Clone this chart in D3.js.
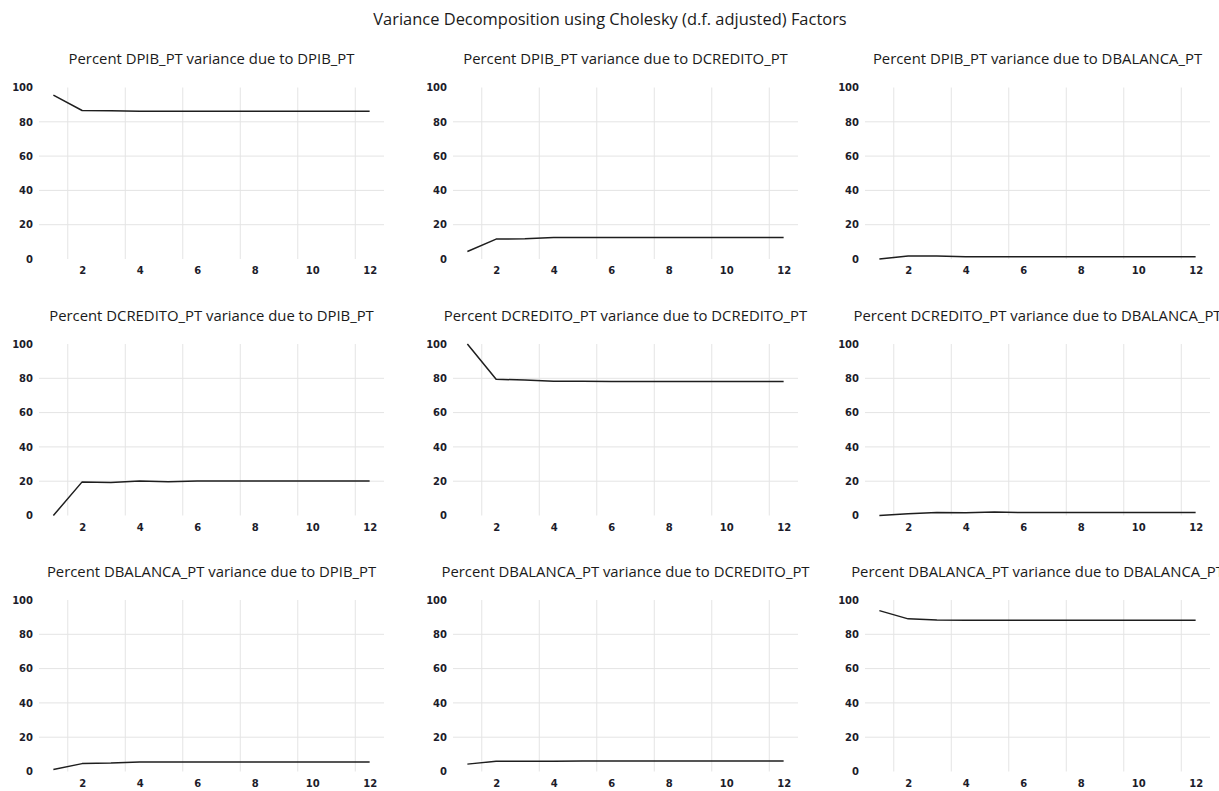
<!DOCTYPE html>
<html>
<head>
<meta charset="utf-8">
<script src="https://cdn.jsdelivr.net/npm/d3@7"></script>
<style>
  html, body { margin: 0; padding: 0; background: #ffffff; overflow: hidden; }
  svg { display: block; }
</style>
</head>
<body>
<svg id="chart" width="1219" height="791"></svg>
<script>
// ---------------- data ----------------
const chartTitle = "Variance Decomposition using Cholesky (d.f. adjusted) Factors";
const variables = ["DPIB_PT", "DCREDITO_PT", "DBALANCA_PT"];
const periods = [1, 2, 3, 4, 5, 6, 7, 8, 9, 10, 11, 12];
const xTickValues = [2, 4, 6, 8, 10, 12];
const yTickValues = [0, 20, 40, 60, 80, 100];
const xGridValues = [1.5, 3.5, 5.5, 7.5, 9.5, 11.5];
const yGridValues = [20, 40, 60, 80];

// Percent <response> variance due to <shock>
const dpib_dpib   = [95.6, 86.6, 86.5, 86.2, 86.2, 86.2, 86.2, 86.2, 86.2, 86.2, 86.2, 86.2];
const dpib_dcred  = [4.4, 11.6, 11.8, 12.5, 12.5, 12.5, 12.5, 12.5, 12.5, 12.5, 12.5, 12.5];
const dpib_dbal   = [0.0, 1.8, 1.7, 1.3, 1.3, 1.3, 1.3, 1.3, 1.3, 1.3, 1.3, 1.3];

const dcred_dpib  = [0.0, 19.6, 19.3, 20.1, 19.7, 20.1, 20.1, 20.1, 20.1, 20.1, 20.1, 20.1];
const dcred_dcred = [100.0, 79.4, 79.0, 78.3, 78.3, 78.2, 78.2, 78.2, 78.2, 78.2, 78.2, 78.2];
const dcred_dbal  = [0.0, 1.0, 1.7, 1.6, 2.0, 1.7, 1.7, 1.7, 1.7, 1.7, 1.7, 1.7];

const dbal_dpib   = [1.2, 4.6, 4.9, 5.6, 5.6, 5.6, 5.6, 5.6, 5.6, 5.6, 5.6, 5.6];
const dbal_dcred  = [4.3, 6.0, 6.0, 6.0, 6.1, 6.1, 6.1, 6.1, 6.1, 6.1, 6.1, 6.1];
const dbal_dbal   = [93.8, 89.0, 88.4, 88.2, 88.2, 88.2, 88.2, 88.2, 88.2, 88.2, 88.2, 88.2];

const seriesGrid = [
  [dpib_dpib, dpib_dcred, dpib_dbal],
  [dcred_dpib, dcred_dcred, dcred_dbal],
  [dbal_dpib, dbal_dcred, dbal_dbal]
];

// ---------------- layout ----------------
const colLeft = [39, 453, 865];
const rowTop = [87.5, 344, 600];
const plotW = 345;
const plotH = 171.5;
const textFont = "'Open Sans', Lato, sans-serif";
const tickFont = "'DejaVu Sans', sans-serif";

const svg = d3.select("#chart");

// fit a text's font size so its rendered width matches the target width
function fitFont(sel, baseSize, targetWidth) {
  sel.attr("font-size", baseSize);
  const w = sel.node().getComputedTextLength();
  const size = w > 0 ? baseSize * targetWidth / w : baseSize;
  sel.attr("font-size", size);
  return size;
}

const titleSel = svg.append("text")
  .attr("x", 610)
  .attr("y", 25)
  .attr("text-anchor", "middle")
  .attr("font-family", textFont)
  .attr("fill", "#1a1a1a")
  .text(chartTitle);
fitFont(titleSel, 14, 474);

// measure subtitle size from the first subtitle (reference width ~286px)
const probe = svg.append("text")
  .attr("font-family", textFont)
  .text(`Percent ${variables[0]} variance due to ${variables[0]}`);
const subSize = fitFont(probe, 13, 286);
probe.remove();

const x = d3.scaleLinear().domain([0.5, 12.5]).range([0, plotW]);
const y = d3.scaleLinear().domain([0, 100]).range([plotH, 0]);

const line = d3.line()
  .x((d, i) => x(periods[i]))
  .y(d => y(d));

for (let r = 0; r < 3; r++) {
  for (let c = 0; c < 3; c++) {
    const g = svg.append("g")
      .attr("transform", `translate(${colLeft[c]},${rowTop[r]})`);

    // subtitle
    g.append("text")
      .attr("x", plotW / 2)
      .attr("y", -23.5)
      .attr("text-anchor", "middle")
      .attr("font-family", textFont)
      .attr("font-size", subSize)
      .attr("fill", "#1a1a1a")
      .text(`Percent ${variables[r]} variance due to ${variables[c]}`);

    // horizontal grid
    g.selectAll("line.hg").data(yGridValues).enter().append("line")
      .attr("class", "hg")
      .attr("x1", 0).attr("x2", plotW)
      .attr("y1", d => y(d)).attr("y2", d => y(d))
      .attr("stroke", "#e4e4e4").attr("stroke-width", 1);

    // vertical grid
    g.selectAll("line.vg").data(xGridValues).enter().append("line")
      .attr("class", "vg")
      .attr("x1", d => x(d)).attr("x2", d => x(d))
      .attr("y1", y(100)).attr("y2", y(0))
      .attr("stroke", "#e4e4e4").attr("stroke-width", 1);

    // y axis
    const yAxis = d3.axisLeft(y).tickValues(yTickValues).tickSize(0).tickPadding(6)
      .tickFormat(d3.format("d"));
    const ya = g.append("g").call(yAxis);
    ya.select(".domain").remove();
    ya.selectAll("text")
      .attr("font-family", tickFont)
      .attr("font-weight", "bold")
      .attr("font-size", 10)
      .attr("fill", "#1c1c2a");

    // x axis
    const xAxis = d3.axisBottom(x).tickValues(xTickValues).tickSize(0).tickPadding(8)
      .tickFormat(d3.format("d"));
    const xa = g.append("g").attr("transform", `translate(0,${plotH})`).call(xAxis);
    xa.select(".domain").remove();
    xa.selectAll("text")
      .attr("font-family", tickFont)
      .attr("font-weight", "bold")
      .attr("font-size", 10)
      .attr("fill", "#1c1c2a");

    // line
    g.append("path")
      .datum(seriesGrid[r][c])
      .attr("d", line)
      .attr("fill", "none")
      .attr("stroke", "#1e1e1e")
      .attr("stroke-width", 1.5)
      .attr("stroke-linejoin", "round");
  }
}
</script>
</body>
</html>
